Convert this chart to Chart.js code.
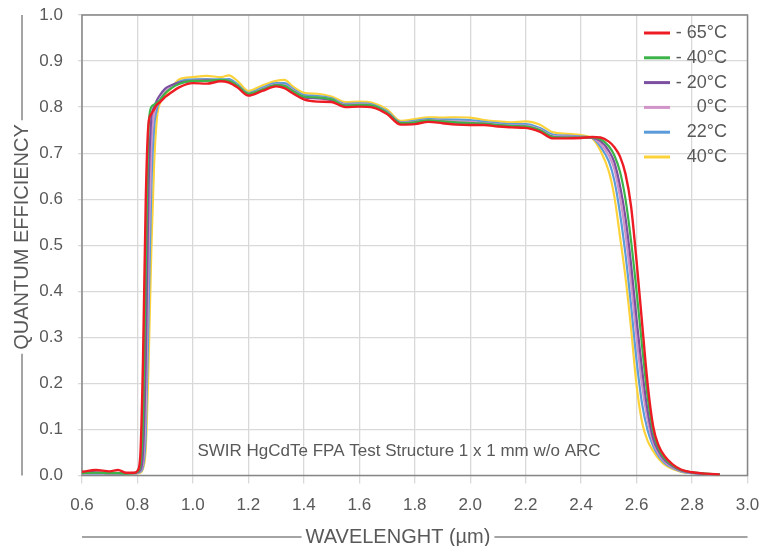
<!DOCTYPE html>
<html>
<head>
<meta charset="utf-8">
<title>SWIR HgCdTe FPA - Quantum Efficiency</title>
<script src="https://cdn.jsdelivr.net/npm/chart.js@4.4.1/dist/chart.umd.min.js"></script>
<style>
  html, body { margin: 0; padding: 0; background: #ffffff; }
  #wrap { width: 773px; height: 546px; }
</style>
</head>
<body>
<div id="wrap"><canvas id="qe-chart" width="773" height="546"></canvas></div>
<script>
// Wavelength grid (µm), shared by every curve
const wavelength = [
  0.60, 0.65, 0.70, 0.73, 0.76, 0.79,
  0.80, 0.81, 0.82, 0.83, 0.84, 0.85, 0.86, 0.87, 0.88,
  0.90, 0.92, 0.95,
  1.00, 1.05, 1.10, 1.13, 1.16,
  1.20, 1.25, 1.30, 1.33, 1.36,
  1.40, 1.45, 1.50, 1.55, 1.60, 1.65, 1.70, 1.75, 1.80, 1.85, 1.90, 1.95,
  2.00, 2.05, 2.10, 2.15, 2.20, 2.25, 2.30, 2.35, 2.40,
  2.44, 2.47, 2.50, 2.52, 2.54, 2.56, 2.58, 2.60, 2.62, 2.64, 2.66, 2.68, 2.70,
  2.73, 2.76, 2.80, 2.85, 2.90
];

// Quantum efficiency per temperature
const qeMinus65 = [
  0.008, 0.012, 0.009, 0.012, 0.006, 0.006,
  0.010, 0.040, 0.250, 0.600, 0.765, 0.785, 0.795, 0.805, 0.810,
  0.822, 0.831, 0.843,
  0.852, 0.851, 0.856, 0.853, 0.843,
  0.825, 0.835, 0.845, 0.841, 0.830,
  0.817, 0.812, 0.811, 0.800, 0.801, 0.799, 0.785, 0.762, 0.763, 0.768, 0.765, 0.762,
  0.761, 0.761, 0.758, 0.756, 0.755, 0.747, 0.732, 0.732, 0.733,
  0.735, 0.734, 0.725, 0.713, 0.693, 0.655, 0.585, 0.465, 0.330, 0.198, 0.106, 0.064, 0.043,
  0.024, 0.013, 0.007, 0.004, 0.002
];
const qeMinus40 = [
  0.005, 0.006, 0.005, 0.005, 0.004, 0.005,
  0.008, 0.020, 0.120, 0.450, 0.755, 0.800, 0.805, 0.810, 0.815,
  0.830, 0.840, 0.850,
  0.857, 0.857, 0.859, 0.857, 0.847,
  0.829, 0.838, 0.848, 0.846, 0.835,
  0.823, 0.821, 0.817, 0.803, 0.805, 0.803, 0.788, 0.765, 0.767, 0.771, 0.769, 0.767,
  0.765, 0.764, 0.761, 0.759, 0.758, 0.750, 0.735, 0.734, 0.734,
  0.734, 0.730, 0.715, 0.695, 0.660, 0.600, 0.510, 0.400, 0.280, 0.170, 0.095, 0.058, 0.038,
  0.022, 0.012, 0.007, 0.004, 0.002
];
const qeMinus20 = [
  0.008, 0.007, 0.005, 0.005, 0.005, 0.006,
  0.007, 0.012, 0.050, 0.250, 0.620, 0.775, 0.800, 0.815, 0.825,
  0.840, 0.847, 0.853,
  0.857, 0.858, 0.857, 0.855, 0.845,
  0.828, 0.837, 0.847, 0.845, 0.835,
  0.821, 0.819, 0.815, 0.803, 0.804, 0.801, 0.787, 0.765, 0.766, 0.770, 0.768, 0.766,
  0.764, 0.763, 0.760, 0.758, 0.757, 0.749, 0.735, 0.734, 0.734,
  0.733, 0.726, 0.705, 0.680, 0.630, 0.560, 0.460, 0.340, 0.230, 0.140, 0.080, 0.052, 0.034,
  0.020, 0.011, 0.006, 0.003, 0.002
];
const qeZero = [
  0.004, 0.005, 0.004, 0.004, 0.004, 0.004,
  0.005, 0.010, 0.030, 0.150, 0.480, 0.715, 0.785, 0.805, 0.815,
  0.833, 0.843, 0.852,
  0.857, 0.859, 0.858, 0.857, 0.847,
  0.829, 0.839, 0.849, 0.848, 0.837,
  0.823, 0.821, 0.817, 0.805, 0.806, 0.803, 0.789, 0.766, 0.768, 0.772, 0.770, 0.769,
  0.768, 0.765, 0.762, 0.760, 0.760, 0.752, 0.737, 0.736, 0.735,
  0.733, 0.720, 0.695, 0.665, 0.605, 0.525, 0.420, 0.300, 0.195, 0.120, 0.072, 0.047, 0.031,
  0.018, 0.010, 0.006, 0.003, 0.002
];
const qePlus22 = [
  0.004, 0.004, 0.004, 0.004, 0.003, 0.004,
  0.005, 0.008, 0.020, 0.090, 0.350, 0.625, 0.755, 0.795, 0.813,
  0.831, 0.843, 0.855,
  0.860, 0.861, 0.860, 0.861, 0.850,
  0.831, 0.842, 0.852, 0.852, 0.840,
  0.826, 0.824, 0.819, 0.807, 0.808, 0.805, 0.791, 0.767, 0.770, 0.774, 0.773, 0.773,
  0.772, 0.768, 0.765, 0.763, 0.763, 0.755, 0.740, 0.738, 0.736,
  0.733, 0.714, 0.682, 0.640, 0.570, 0.480, 0.370, 0.250, 0.155, 0.098, 0.064, 0.042, 0.028,
  0.016, 0.009, 0.005, 0.003, 0.002
];
const qePlus40 = [
  0.004, 0.005, 0.004, 0.004, 0.003, 0.003,
  0.004, 0.006, 0.015, 0.060, 0.240, 0.490, 0.675, 0.775, 0.807,
  0.827, 0.840, 0.860,
  0.865, 0.868, 0.865, 0.869, 0.857,
  0.835, 0.847, 0.857, 0.859, 0.845,
  0.831, 0.829, 0.823, 0.811, 0.812, 0.809, 0.795, 0.770, 0.774, 0.778, 0.777, 0.778,
  0.777, 0.772, 0.769, 0.767, 0.769, 0.762, 0.745, 0.742, 0.739,
  0.732, 0.705, 0.660, 0.605, 0.520, 0.430, 0.320, 0.195, 0.115, 0.075, 0.053, 0.036, 0.024,
  0.014, 0.008, 0.005, 0.003, 0.002
];

const seriesLabels = ["- 65°C", "- 40°C", "- 20°C", "0°C", "22°C", "40°C"];
const seriesColors = ["#ed1c24", "#3cb44a", "#7d4fa1", "#d194c9", "#5b9bd9", "#fcd23a"];
const seriesValues = [qeMinus65, qeMinus40, qeMinus20, qeZero, qePlus22, qePlus40];

const xTickValues = [0.6, 0.8, 1.0, 1.2, 1.4, 1.6, 1.8, 2.0, 2.2, 2.4, 2.6, 2.8, 3.0];
const yTickValues = [0.0, 0.1, 0.2, 0.3, 0.4, 0.5, 0.6, 0.7, 0.8, 0.9, 1.0];

const noteText = "SWIR HgCdTe FPA Test Structure 1 x 1 mm w/o ARC";
const xTitle = "WAVELENGHT (µm)";
const yTitle = "QUANTUM EFFICIENCY";

const FONT = "'Liberation Sans', Arial, sans-serif";
const TEXT_GREY = "#595959";
const LINE_GREY = "#868686";

// frame, axis titles with rules, note and legend drawn by hand
const decorPlugin = {
  id: "decor",
  beforeDatasetsDraw(chart) {
    const { ctx, chartArea: a } = chart;
    ctx.save();
    ctx.strokeStyle = LINE_GREY;
    ctx.lineWidth = 1.5;
    ctx.strokeRect(a.left, a.top, a.right - a.left, a.bottom - a.top);
    ctx.restore();
  },
  afterDraw(chart) {
    const { ctx, chartArea: a } = chart;
    ctx.save();

    // note inside the plot
    ctx.font = "17px " + FONT;
    ctx.fillStyle = TEXT_GREY;
    ctx.textAlign = "center";
    ctx.textBaseline = "middle";
    ctx.fillText(noteText, 399, 451);

    // x title with rules either side
    ctx.font = "20px " + FONT;
    const xw = ctx.measureText(xTitle).width;
    const xc = 398, xy = 537;
    ctx.fillText(xTitle, xc, xy);
    ctx.strokeStyle = LINE_GREY;
    ctx.lineWidth = 1.5;
    ctx.beginPath();
    ctx.moveTo(a.left, xy);
    ctx.lineTo(xc - xw / 2 - 4, xy);
    ctx.moveTo(xc + xw / 2 + 4, xy);
    ctx.lineTo(a.right, xy);
    ctx.stroke();

    // y title, rotated
    const yw = ctx.measureText(yTitle).width;
    const yc = 237, yx = 22;
    ctx.save();
    ctx.translate(yx, yc);
    ctx.rotate(-Math.PI / 2);
    ctx.fillText(yTitle, 0, 0);
    ctx.restore();
    ctx.beginPath();
    ctx.moveTo(yx, a.top);
    ctx.lineTo(yx, yc - yw / 2 - 4);
    ctx.moveTo(yx, yc + yw / 2 + 4);
    ctx.lineTo(yx, a.bottom);
    ctx.stroke();

    // legend, top right inside the plot
    ctx.font = "18px " + FONT;
    ctx.textAlign = "right";
    seriesLabels.forEach((label, i) => {
      const y = 33 + i * 24.8;
      ctx.strokeStyle = seriesColors[i];
      ctx.lineWidth = 3;
      ctx.beginPath();
      ctx.moveTo(644, y);
      ctx.lineTo(670, y);
      ctx.stroke();
      ctx.fillStyle = TEXT_GREY;
      ctx.fillText(label, 727, y);
    });

    ctx.restore();
  }
};

const datasets = seriesLabels.map((label, i) => ({
  label: label,
  data: wavelength.map((w, j) => ({ x: w, y: seriesValues[i][j] })),
  borderColor: seriesColors[i],
  backgroundColor: seriesColors[i],
  borderWidth: i === 0 ? 2.4 : 2.2,
  pointRadius: 0,
  fill: false,
  cubicInterpolationMode: "monotone"
}));

const ctx = document.getElementById("qe-chart").getContext("2d");
new Chart(ctx, {
  type: "line",
  data: { datasets: datasets },
  options: {
    responsive: false,
    animation: false,
    devicePixelRatio: 1,
    layout: { padding: { top: 15, right: 25.5, left: 0, bottom: 0 } },
    plugins: {
      legend: { display: false },
      tooltip: { enabled: false }
    },
    scales: {
      x: {
        type: "linear",
        min: 0.6,
        max: 3.0,
        afterBuildTicks: (scale) => {
          scale.ticks = xTickValues.map((v) => ({ value: v }));
        },
        afterFit: (scale) => {
          scale.height = 70.5;
          scale.paddingLeft = 0;
          scale.paddingRight = 0;
        },
        grid: { color: "#d9d9d9", lineWidth: 1.3, tickLength: 8 },
        border: { display: false },
        ticks: {
          padding: 12,
          color: TEXT_GREY,
          font: { family: FONT, size: 17 },
          maxRotation: 0,
          autoSkip: false,
          callback: (v) => Number(v).toFixed(1)
        }
      },
      y: {
        min: 0,
        max: 1,
        afterBuildTicks: (scale) => {
          scale.ticks = yTickValues.map((v) => ({ value: v }));
        },
        afterFit: (scale) => {
          scale.width = 82;
          scale.paddingTop = 0;
          scale.paddingBottom = 0;
        },
        grid: { color: "#d9d9d9", lineWidth: 1.3, tickLength: 4 },
        border: { display: false },
        ticks: {
          padding: 15,
          color: TEXT_GREY,
          font: { family: FONT, size: 17 },
          callback: (v) => Number(v).toFixed(1)
        }
      }
    }
  },
  plugins: [decorPlugin]
});
</script>
</body>
</html>
